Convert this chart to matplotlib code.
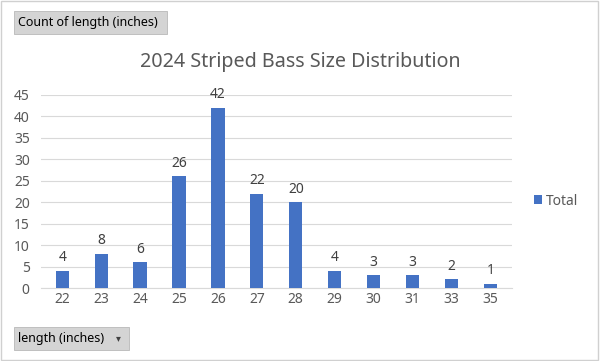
import matplotlib.pyplot as plt
from matplotlib.patches import Rectangle

plt.rcParams["font.family"] = ["Noto Sans", "DejaVu Sans"]

lengths = ["22", "23", "24", "25", "26", "27", "28", "29", "30", "31", "33", "35"]
counts = [4, 8, 6, 26, 42, 22, 20, 4, 3, 3, 2, 1]

fig = plt.figure(figsize=(6, 3.61), dpi=100)
fig.patch.set_facecolor("white")
ax = fig.add_axes([0.068, 0.202, 0.785, 0.535])

x = range(len(lengths))
ax.bar(x, counts, width=0.34, color="#4472C4", label="Total", zorder=3)
for xi, c in zip(x, counts):
    ax.text(xi, c + 1.3, str(c), ha="center", va="bottom", fontsize=10, color="#404040")

ax.set_ylim(0, 45)
ax.set_yticks(range(0, 46, 5))
ax.set_xlim(-0.55, len(lengths) - 0.45)
ax.set_xticks(list(x))
ax.set_xticklabels(lengths)
ax.grid(axis="y", color="#d9d9d9", linewidth=0.8, zorder=0)
for s in ax.spines.values():
    s.set_visible(False)
ax.spines["bottom"].set_visible(True)
ax.spines["bottom"].set_color("#d9d9d9")
ax.tick_params(axis="x", length=0, labelsize=10, colors="#595959", pad=3)
ax.tick_params(axis="y", length=0, labelsize=10, colors="#595959", pad=8)

fig.text(0.5, 0.828, "2024 Striped Bass Size Distribution", ha="center", va="center",
         fontsize=14.2, color="#595959")

leg = ax.legend(loc="center left", bbox_to_anchor=(1.02, 0.45), frameon=False,
                handlelength=0.6, handleheight=0.6, handletextpad=0.3, fontsize=10)
for t in leg.get_texts():
    t.set_color("#595959")

# field buttons
fig.patches.append(Rectangle((14 / 600, 1 - 34 / 361), 153 / 600, 23 / 361,
                             transform=fig.transFigure, facecolor="#d4d4d4",
                             edgecolor="#b8b8b8", linewidth=0.6))
fig.text(18 / 600, 1 - 22.5 / 361, "Count of length (inches)", ha="left", va="center",
         fontsize=9, color="black")
fig.patches.append(Rectangle((14 / 600, 1 - 350 / 361), 115 / 600, 23 / 361,
                             transform=fig.transFigure, facecolor="#d4d4d4",
                             edgecolor="#b8b8b8", linewidth=0.6))
fig.text(18 / 600, 1 - 338.5 / 361, "length (inches)", ha="left", va="center",
         fontsize=9, color="black")
fig.text(118 / 600, 1 - 338.5 / 361, "\u25BE", ha="center", va="center",
         fontsize=7, color="#404040", family="DejaVu Sans")

# outer border
fig.patches.append(Rectangle((0.002, 0.003), 0.995, 0.993, transform=fig.transFigure,
                             facecolor="none", edgecolor="#d0d0d0", linewidth=1))

fig.savefig("out.png", dpi=100)
